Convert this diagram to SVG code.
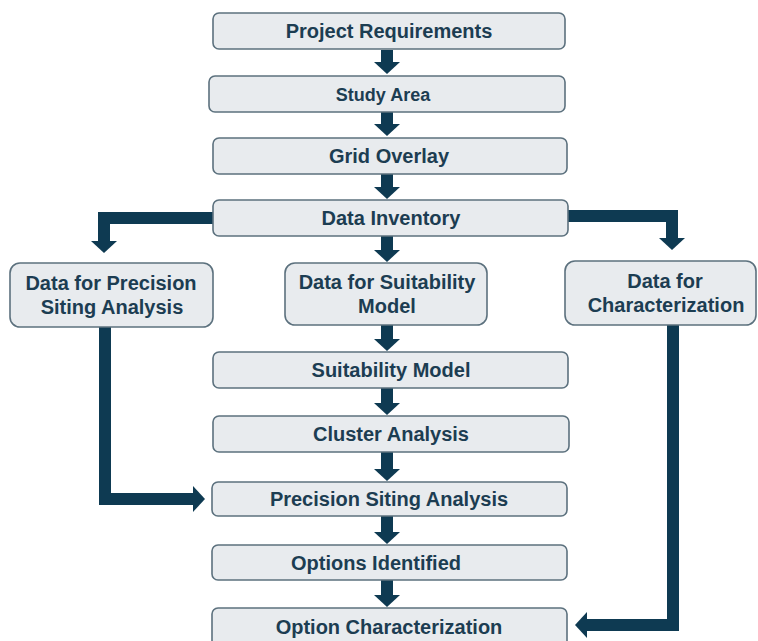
<svg xmlns="http://www.w3.org/2000/svg" width="758" height="641" viewBox="0 0 758 641">
<defs>
<style>
.box{fill:#e8ebee;stroke:#5c717e;stroke-width:1.6}
.t{font-family:"Liberation Sans",Arial,sans-serif;font-weight:bold;font-size:20px;fill:#1c3d52;text-anchor:middle}
.c{fill:none;stroke:#0e3a52;stroke-width:12;stroke-linejoin:miter}
</style>
<marker id="ah" markerUnits="userSpaceOnUse" markerWidth="14" markerHeight="28" refX="0" refY="13" orient="auto">
<path d="M0,0 L12,13 L0,26 Z" fill="#0e3a52"/>
</marker>
</defs>
<rect width="758" height="641" fill="#ffffff"/>
<g id="connectors">
<path class="c" marker-end="url(#ah)" d="M387,50 V62"/>
<path class="c" marker-end="url(#ah)" d="M387,112 V124"/>
<path class="c" marker-end="url(#ah)" d="M387,174 V187"/>
<path class="c" marker-end="url(#ah)" d="M387,236 V250"/>
<path class="c" marker-end="url(#ah)" d="M387,325 V339"/>
<path class="c" marker-end="url(#ah)" d="M387,388 V403"/>
<path class="c" marker-end="url(#ah)" d="M387,452 V469"/>
<path class="c" marker-end="url(#ah)" d="M387,516 V532"/>
<path class="c" marker-end="url(#ah)" d="M387,580 V595"/>
<path class="c" marker-end="url(#ah)" d="M213,218 H104 V241"/>
<path class="c" marker-end="url(#ah)" d="M568,216 H672 V238"/>
<path class="c" marker-end="url(#ah)" d="M105,327 V499 H193"/>
<path class="c" marker-end="url(#ah)" d="M673,325 V625 H587"/>
</g>
<g id="n1"><rect class="box" x="213" y="13" width="352" height="36" rx="6"/><text class="t" x="389" y="38">Project Requirements</text></g>
<g id="n2"><rect class="box" x="209" y="76" width="356" height="36" rx="6"/><text class="t" x="383" y="101" style="font-size:18px">Study Area</text></g>
<g id="n3"><rect class="box" x="213" y="138" width="354" height="36" rx="6"/><text class="t" x="389" y="163">Grid Overlay</text></g>
<g id="n4"><rect class="box" x="213" y="200" width="355" height="36" rx="6"/><text class="t" x="391" y="225">Data Inventory</text></g>
<g id="n5"><rect class="box" x="10" y="263" width="203" height="64" rx="10"/><text class="t" x="111" y="290">Data for Precision</text><text class="t" x="112" y="314">Siting Analysis</text></g>
<g id="n6"><rect class="box" x="285" y="263" width="202" height="62" rx="10"/><text class="t" x="387" y="289">Data for Suitability</text><text class="t" x="387" y="313">Model</text></g>
<g id="n7"><rect class="box" x="565" y="261" width="191" height="64" rx="10"/><text class="t" x="665" y="288">Data for</text><text class="t" x="666" y="312">Characterization</text></g>
<g id="n8"><rect class="box" x="213" y="352" width="355" height="36" rx="6"/><text class="t" x="391" y="377">Suitability Model</text></g>
<g id="n9"><rect class="box" x="213" y="416" width="356" height="36" rx="6"/><text class="t" x="391" y="441">Cluster Analysis</text></g>
<g id="n10"><rect class="box" x="212" y="482" width="355" height="34" rx="6"/><text class="t" x="389" y="506">Precision Siting Analysis</text></g>
<g id="n11"><rect class="box" x="212" y="545" width="355" height="35" rx="6"/><text class="t" x="376" y="570">Options Identified</text></g>
<g id="n12"><rect class="box" x="212" y="608" width="355" height="40" rx="6"/><text class="t" x="389" y="634">Option Characterization</text></g>
</svg>
